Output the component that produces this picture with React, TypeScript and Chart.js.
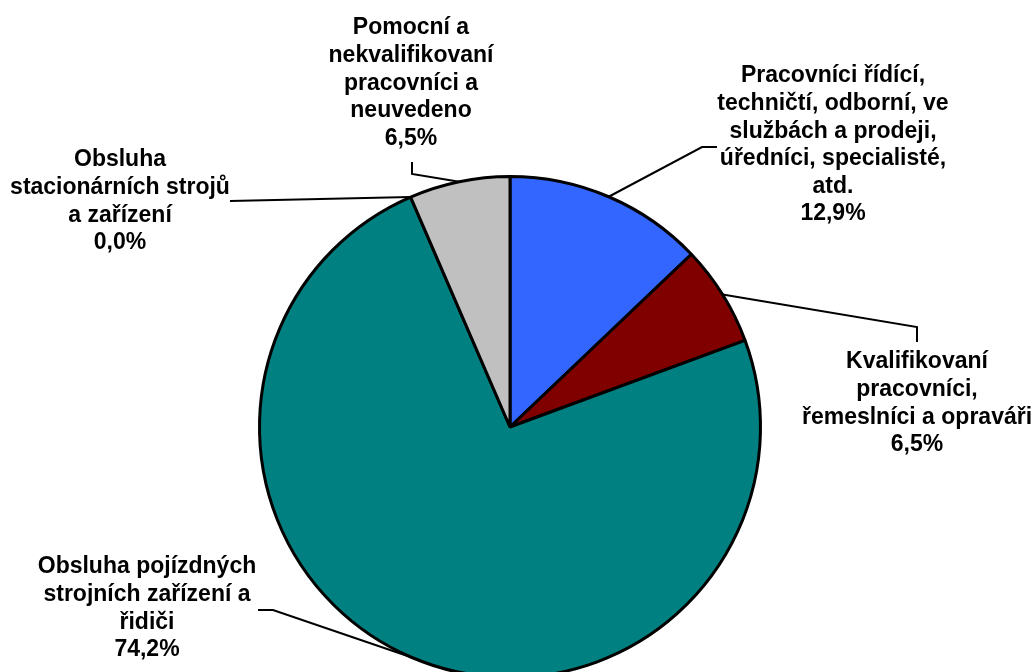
import React, { useEffect, useRef } from "react";
import { Chart, registerables } from "chart.js";

Chart.register(...registerables);

const categories: string[][] = [
  ["Pracovníci řídící,", "techničtí, odborní, ve", "službách a prodeji,", "úředníci, specialisté,", "atd."],
  ["Kvalifikovaní", "pracovníci,", "řemeslníci a opraváři"],
  ["Obsluha pojízdných", "strojních zařízení a", "řidiči"],
  ["Obsluha", "stacionárních strojů", "a zařízení"],
  ["Pomocní a", "nekvalifikovaní", "pracovníci a", "neuvedeno"],
];
const values: number[] = [12.9, 6.5, 74.2, 0.0, 6.5];
const valueLabels: string[] = ["12,9%", "6,5%", "74,2%", "0,0%", "6,5%"];
const colors: string[] = ["#3366FF", "#800000", "#008080", "#FFFFFF", "#C0C0C0"];

// label layout: text block centre x, first line centre y, and leader-line elbows
const labelLayout = [
  { cx: 833, y0: 76, elbows: [[702, 147], [717, 147]] },
  { cx: 917, y0: 362, elbows: [[917, 327], [917, 342]] },
  { cx: 147, y0: 567, elbows: [[273, 610], [258, 610]] },
  { cx: 120, y0: 160, elbows: [[230, 201]] },
  { cx: 411, y0: 28, elbows: [[412, 174], [412, 162]] },
];
const LINE_H = 27.6;

const labelPlugin = {
  id: "pieLabels",
  afterDatasetsDraw(chart: any) {
    const ctx = chart.ctx;
    const meta = chart.getDatasetMeta(0);
    ctx.save();
    ctx.strokeStyle = "#000";
    ctx.lineWidth = 2;
    meta.data.forEach((arc: any, i: number) => {
      const p = arc.getProps(["x", "y", "startAngle", "endAngle", "outerRadius"], true);
      const mid = (p.startAngle + p.endAngle) / 2;
      const sx = p.x + Math.cos(mid) * p.outerRadius;
      const sy = p.y + Math.sin(mid) * p.outerRadius;
      ctx.beginPath();
      ctx.moveTo(sx, sy);
      labelLayout[i].elbows.forEach((e) => ctx.lineTo(e[0], e[1]));
      ctx.stroke();
    });
    ctx.fillStyle = "#000";
    ctx.font = "bold 23px 'Liberation Sans', Arial, sans-serif";
    ctx.textAlign = "center";
    ctx.textBaseline = "middle";
    categories.forEach((lines, i) => {
      const L = labelLayout[i];
      const all = [...lines, valueLabels[i]];
      all.forEach((t, j) => ctx.fillText(t, L.cx, L.y0 + j * LINE_H));
    });
    ctx.restore();
  },
};

export default function App() {
  const ref = useRef<HTMLCanvasElement>(null);
  useEffect(() => {
    if (!ref.current) return;
    const chart = new Chart(ref.current, {
      type: "pie",
      data: {
        labels: categories.map((c) => c.join(" ")),
        datasets: [
          {
            data: values,
            backgroundColor: colors,
            borderColor: "#000000",
            borderWidth: 3,
          },
        ],
      },
      options: {
        animation: false,
        responsive: false,
        events: [],
        layout: { padding: { left: 258, right: 272, top: 175, bottom: 21 } },
        plugins: { legend: { display: false }, tooltip: { enabled: false } },
      },
      plugins: [labelPlugin],
    });
    return () => chart.destroy();
  }, []);
  return (
    <div style={{ position: "fixed", left: 0, top: 0, width: 1034, height: 672, overflow: "hidden", background: "#fff" }}>
      <canvas ref={ref} width={1034} height={700} style={{ width: 1034, height: 700, display: "block" }} />
    </div>
  );
}
